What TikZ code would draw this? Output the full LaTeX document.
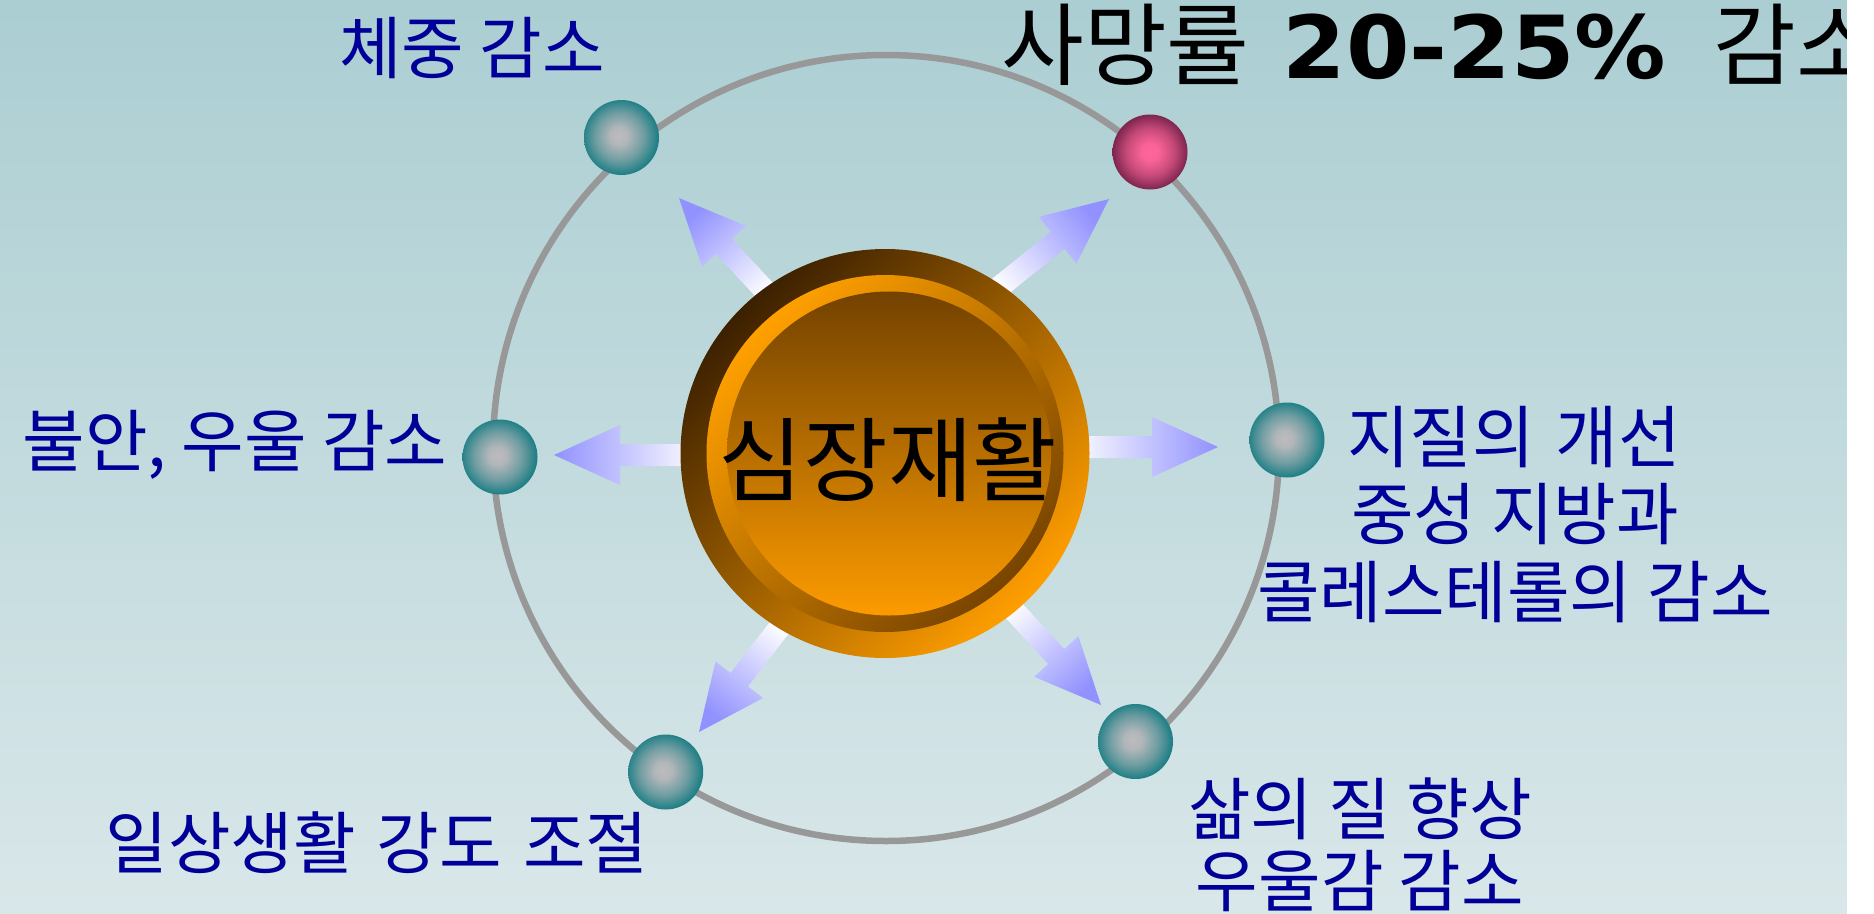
\documentclass[tikz,border=0pt]{standalone}
\usepackage{fontspec}
\usetikzlibrary{calc}
\newfontfamily\krlabel[WordSpace=2.5]{Noto Sans CJK KR}
\newfontfamily\krplain{Noto Sans CJK KR}
\newfontfamily\numfont[FakeStretch=1.05]{DejaVu Sans}
\definecolor{bgtop}{RGB}{171,206,210}
\definecolor{bgbot}{RGB}{217,231,233}
\definecolor{orbitgray}{RGB}{152,152,152}
\definecolor{lblblue}{RGB}{0,0,153}
\definecolor{arrowblue}{RGB}{145,145,255}
\definecolor{arrowwhite}{RGB}{250,250,255}
\definecolor{discdark}{RGB}{60,32,0}
\definecolor{discorange}{RGB}{255,158,0}
\definecolor{ringlight}{RGB}{255,160,0}
\definecolor{ringdark}{RGB}{120,68,0}
\definecolor{innertop}{RGB}{115,66,0}
\definecolor{innerbot}{RGB}{253,155,0}
\definecolor{ballgray}{RGB}{190,187,190}
\definecolor{ballteal}{RGB}{32,128,134}
\definecolor{pinkin}{RGB}{255,102,154}
\definecolor{pinkout}{RGB}{125,38,78}

\pgfdeclareradialshading{tealball}{\pgfpoint{-2bp}{1bp}}{%
  color(0bp)=(ballgray); color(6bp)=(ballgray!92!ballteal);
  color(16bp)=(ballgray!50!ballteal); color(25bp)=(ballteal); color(50bp)=(ballteal)}
\pgfdeclareradialshading{pinkball}{\pgfpoint{0bp}{0bp}}{%
  color(0bp)=(pinkin); color(6bp)=(pinkin!95!pinkout);
  color(16bp)=(pinkin!55!pinkout); color(25bp)=(pinkout); color(50bp)=(pinkout)}

\newcommand\fatarrow[3]{%
  \coordinate (hb) at ($(#2)!66pt!(#1)$);
  \path[arrowshade, shading angle=#3]
    ($(#1)!11pt!90:(#2)$) -- ($(hb)!11pt!-90:(#1)$) -- ($(hb)!30pt!-90:(#1)$)
    -- (#2) -- ($(hb)!30pt!90:(#1)$) -- ($(hb)!11pt!90:(#1)$)
    -- ($(#1)!11pt!-90:(#2)$) -- cycle;}

\begin{document}
\begin{tikzpicture}[x=1pt,y=-1pt,
  lbl/.style={text=lblblue, inner sep=0pt, anchor=base, font=\krlabel\fontsize{68}{80}\selectfont},
  sphere/.style={circle, minimum size=75pt, inner sep=0pt, shade, shading=tealball},
  pinksphere/.style={circle, minimum size=75pt, inner sep=0pt, shade, shading=pinkball},
  arrowshade/.style={top color=arrowblue, bottom color=arrowwhite},
  orbitline/.style={draw=orbitgray, line width=6.5pt},
]
\useasboundingbox (0,0) rectangle (1874,913);
\shade[top color=bgtop, bottom color=bgbot] (0,0) rectangle (1847,913);

\node[orbitline, circle, minimum size=786pt, inner sep=0pt] (orbit) at (886,448) {};

% arrows
\coordinate (t1) at (771,297);   \coordinate (h1) at (679,198);
\coordinate (t2) at (992,293);   \coordinate (h2) at (1109,199);
\coordinate (t3) at (695,455);   \coordinate (h3) at (554,455);
\coordinate (t4) at (1075,447);  \coordinate (h4) at (1218,447);
\coordinate (t5) at (784.5,621); \coordinate (h5) at (699,732);
\coordinate (t6) at (1006,602);  \coordinate (h6) at (1101,705);
\fatarrow{t1}{h1}{42.9}
\fatarrow{t2}{h2}{-51.2}
\fatarrow{t3}{h3}{90}
\fatarrow{t4}{h4}{-90}
\fatarrow{t5}{h5}{142.4}
\fatarrow{t6}{h6}{-137.3}

% central disc
\node[circle, minimum size=409pt, inner sep=0pt, top color=discdark, bottom color=discorange, shading angle=45] (disc) at (885,453.5) {};
\node[circle, minimum size=357pt, inner sep=0pt, top color=ringlight, bottom color=ringdark, shading angle=45] (discring) at (885,453.5) {};
\node[circle, minimum size=324pt, inner sep=0pt, top color=innertop, bottom color=innerbot] (disccore) at (889,453.5) {};
\node[anchor=base, inner sep=0pt, font=\krplain\fontsize{92}{104}\selectfont] (center) at (888,494) {심장재활};

% spheres
\node[sphere] (weight) at (621.5,137.5) {};
\node[pinksphere] (mortality) at (1150,152) {};
\node[sphere] (lipid) at (1287,440) {};
\node[sphere] (anxiety) at (500,457) {};
\node[sphere] (daily) at (665.7,772) {};
\node[sphere] (quality) at (1135.5,741.5) {};

% labels
\node[lbl] (lweight) at (472,73) {체중 감소};
\node[lbl] (lanx) at (235,466) {불안, 우울 감소};
\node[lbl] (ldaily) at (377,868) {일상생활\hspace{6pt} 강도\hspace{6pt} 조절};
\node[lbl] (llip1) at (1514,462) {지질의\hspace{6pt} 개선};
\node[lbl] (llip2) at (1515,539) {중성 지방과};
\node[lbl] (llip3) at (1515,617) {콜레스테롤의 감소};
\node[lbl] (lqual1) at (1360,834) {삶의 질 향상};
\node[lbl] (lqual2) at (1360,906) {우울감 감소};
\node[anchor=base west, inner sep=0pt] (lmort) at (1001,78) {\krplain\fontsize{90}{100}\selectfont 사망률\hspace{33pt}{\numfont\bfseries\fontsize{87}{100}\selectfont 20-25\%}\hspace{47pt}감소};

\fill[white] (1847,0) rectangle (1874,913);
\end{tikzpicture}
\end{document}
